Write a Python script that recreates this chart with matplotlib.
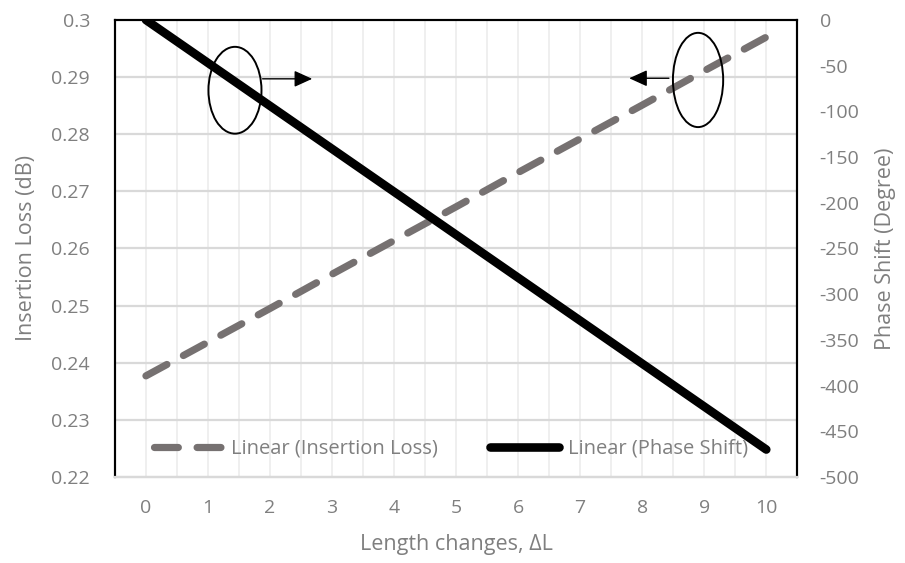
import matplotlib
matplotlib.use("Agg")
import matplotlib.pyplot as plt
from matplotlib.patches import Ellipse

plt.rcParams['font.family'] = ['Open Sans', 'DejaVu Sans']

length_changes = [0, 1, 2, 3, 4, 5, 6, 7, 8, 9, 10]
insertion_loss = [0.2377, 0.2436, 0.2495, 0.2555, 0.2614, 0.2673,
                  0.2733, 0.2792, 0.2851, 0.2911, 0.2970]
phase_shift = [0, -47, -94, -141, -188, -235, -282, -329, -376, -423, -470]

il_ticks = [0.22, 0.23, 0.24, 0.25, 0.26, 0.27, 0.28, 0.29, 0.30]
il_ticklabels = ['0.22', '0.23', '0.24', '0.25', '0.26', '0.27', '0.28', '0.29', '0.3']
ps_ticks = [-500, -450, -400, -350, -300, -250, -200, -150, -100, -50, 0]

TXT = '#7f7f7f'
fig = plt.figure(figsize=(9.05, 5.63), dpi=100)
ax = fig.add_axes([0.127, 0.1528, 0.754, 0.8117])
ax2 = ax.twinx()

# gridlines
for k in range(0, 22):
    ax.axvline(-0.5 + 0.5 * k, color='#eeeeee', lw=1.3, zorder=0)
for t in il_ticks[1:-1]:
    ax.axhline(t, color='#d9d9d9', lw=1.6, zorder=0.5)

ax.plot(length_changes, insertion_loss, color='#767171', lw=5.2,
        dashes=(3.3, 2.6), dash_capstyle='round', solid_capstyle='round',
        zorder=2, label='Linear (Insertion Loss)')
ax2.plot(length_changes, phase_shift, color='black', lw=6.2,
         solid_capstyle='round', zorder=3, label='Linear (Phase Shift)')

ax.set_xlim(-0.5, 10.5)
ax.set_ylim(0.22, 0.30)
ax2.set_ylim(-500, 0)
ax.set_xticks(length_changes)
ax.set_xticklabels([str(v) for v in length_changes])
ax.set_yticks(il_ticks)
ax.set_yticklabels(il_ticklabels)
ax2.set_yticks(ps_ticks)
ax2.set_yticklabels([str(v) for v in ps_ticks])

ax.tick_params(axis='both', length=0, labelcolor=TXT, labelsize=14)
ax.tick_params(axis='y', pad=18)
ax.tick_params(axis='x', pad=16)
ax2.tick_params(axis='y', length=0, labelcolor=TXT, labelsize=14, pad=16)

for a in (ax, ax2):
    for s in ('left', 'right', 'top'):
        a.spines[s].set_color('black')
        a.spines[s].set_linewidth(1.5)
    a.spines['bottom'].set_color('#d9d9d9')
    a.spines['bottom'].set_linewidth(1.6)

ax.set_xlabel('Length changes, ΔL', color=TXT, fontsize=15.5, labelpad=12)
ax.set_ylabel('Insertion Loss (dB)', color=TXT, fontsize=15.5, labelpad=10)
ax2.set_ylabel('Phase Shift (Degree)', color=TXT, fontsize=15.5, labelpad=11)

# annotations
e1 = Ellipse((1.435, 0.2877), 0.855, 0.0152, fill=False, ec='black', lw=1.4,
             transform=ax.transData, zorder=5)
e2 = Ellipse((8.90, 0.2895), 0.81, 0.0165, fill=False, ec='black', lw=1.4,
             transform=ax.transData, zorder=5)
ax2.add_patch(e1)
ax2.add_patch(e2)
astyle = '-|>,head_length=0.55,head_width=0.25'
ax2.annotate('', xy=(2.68, 0.2897), xytext=(1.88, 0.2897),
             xycoords=ax.transData, textcoords=ax.transData,
             arrowprops=dict(arrowstyle=astyle, color='black', lw=1.0,
                             mutation_scale=20, shrinkA=0, shrinkB=0))
ax2.annotate('', xy=(7.79, 0.2898), xytext=(8.43, 0.2898),
             xycoords=ax.transData, textcoords=ax.transData,
             arrowprops=dict(arrowstyle=astyle, color='black', lw=1.0,
                             mutation_scale=20, shrinkA=0, shrinkB=0))

h1, l1 = ax.get_legend_handles_labels()
h2, l2 = ax2.get_legend_handles_labels()
leg = ax2.legend(h1 + h2, l1 + l2, ncol=2, frameon=False,
                 loc='lower left', bbox_to_anchor=(0.03, 0.0),
                 fontsize=14.5, handlelength=3.4, handletextpad=0.45,
                 columnspacing=2.6, labelcolor='#7f7f7f')

fig.savefig('out.png', dpi=100)
